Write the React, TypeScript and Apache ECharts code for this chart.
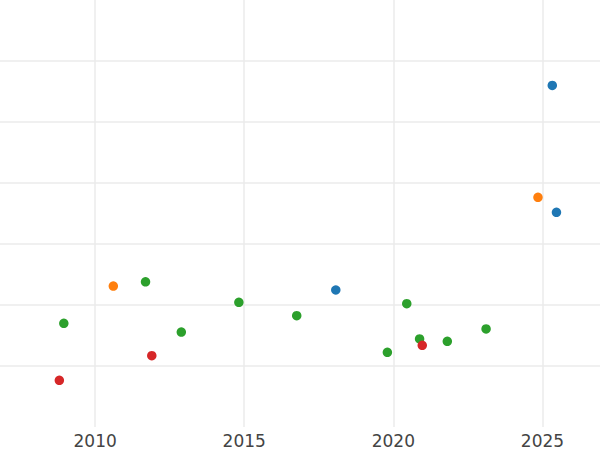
import React, { useEffect, useRef } from "react";
import * as echarts from "echarts";

const blueX = [2018.07, 2025.33, 2025.47];
const blueY = [2.246, 5.6, 3.52];
const orangeX = [2010.61, 2024.85];
const orangeY = [2.31, 3.766];
const greenX = [2008.95, 2011.69, 2012.89, 2014.82, 2016.76, 2019.8, 2020.45, 2020.88, 2021.81, 2023.11];
const greenY = [1.7, 2.38, 1.557, 2.044, 1.825, 1.225, 2.021, 1.443, 1.405, 1.607];
const redX = [2008.8, 2011.9, 2020.97];
const redY = [0.766, 1.169, 1.339];

const colors = ["#1f77b4", "#ff7f0e", "#2ca02c", "#d62728"];

const zip = (xs: number[], ys: number[]) => xs.map((x, i) => [x, ys[i]]);

export default function App() {
  const ref = useRef<HTMLDivElement>(null);
  useEffect(() => {
    if (!ref.current) return;
    const chart = echarts.init(ref.current, undefined, { renderer: "svg" });
    const mk = (name: string, data: number[][], color: string) => ({
      name,
      type: "scatter",
      data,
      symbolSize: 9.5,
      itemStyle: { color, opacity: 1 },
    });
    chart.setOption({
      animation: false,
      backgroundColor: "#ffffff",
      grid: { left: 0, right: 0, top: 0, bottom: 23, containLabel: false },
      xAxis: {
        type: "value",
        min: 2006.81,
        max: 2026.93,
        splitNumber: 4,
        axisLine: { show: false },
        axisTick: { show: false },
        axisLabel: {
          color: "#444444",
          fontSize: 17,
          fontFamily: "DejaVu Sans",
          margin: 5,
          showMinLabel: false,
          showMaxLabel: false,
          formatter: (v: number) => String(Math.round(v)),
        },
        splitLine: {
          show: true,
          showMinLine: false,
          showMaxLine: false,
          lineStyle: { color: "#ebebeb", width: 1.5 },
        },
      },
      yAxis: {
        type: "value",
        min: 0,
        max: 7,
        interval: 1,
        axisLine: { show: false },
        axisTick: { show: false },
        axisLabel: { show: false },
        splitLine: {
          show: true,
          showMinLine: false,
          showMaxLine: false,
          lineStyle: { color: "#ebebeb", width: 1.5 },
        },
      },
      series: [
        mk("blue", zip(blueX, blueY), colors[0]),
        mk("orange", zip(orangeX, orangeY), colors[1]),
        mk("green", zip(greenX, greenY), colors[2]),
        mk("red", zip(redX, redY), colors[3]),
      ],
    });
    return () => chart.dispose();
  }, []);
  return <div ref={ref} style={{ width: 600, height: 450, position: "absolute", left: 0, top: 0 }} />;
}
